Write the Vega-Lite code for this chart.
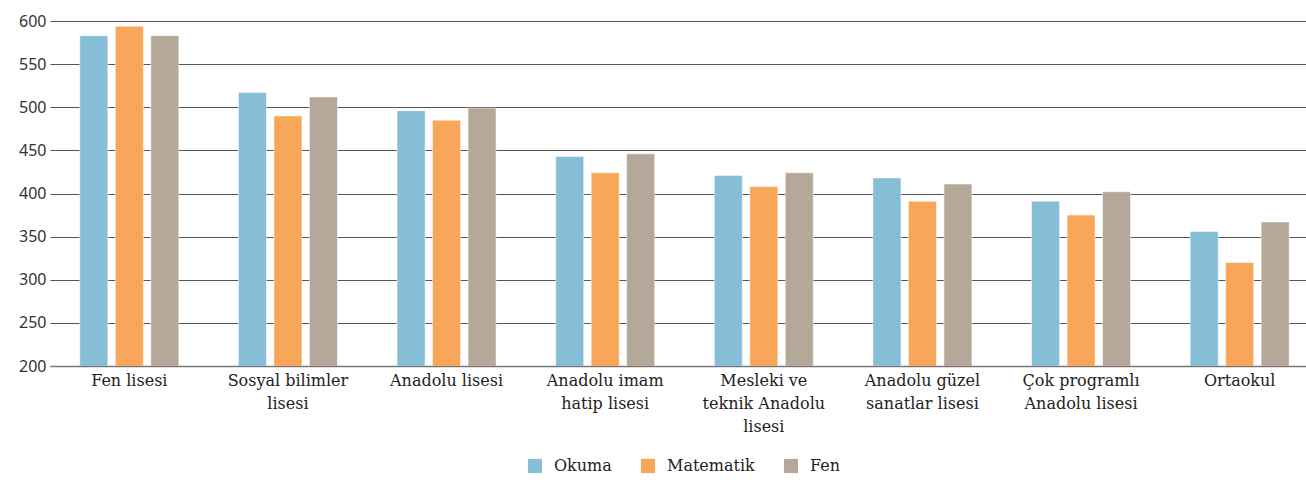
{
  "$schema": "https://vega.github.io/schema/vega-lite/v6.json",
  "autosize": {"type": "none"},
  "padding": {"left": 56, "top": 21, "right": 0, "bottom": 133},
  "width": 1250,
  "height": 345,
  "background": "white",
  "config": {"view": {"stroke": null}},
  "data": {
    "values": [
      {"okul": "Fen lisesi", "alan": "Okuma", "puan": 583},
      {"okul": "Fen lisesi", "alan": "Matematik", "puan": 594},
      {"okul": "Fen lisesi", "alan": "Fen", "puan": 583},
      {"okul": "Sosyal bilimler lisesi", "alan": "Okuma", "puan": 517},
      {"okul": "Sosyal bilimler lisesi", "alan": "Matematik", "puan": 490},
      {"okul": "Sosyal bilimler lisesi", "alan": "Fen", "puan": 512},
      {"okul": "Anadolu lisesi", "alan": "Okuma", "puan": 496},
      {"okul": "Anadolu lisesi", "alan": "Matematik", "puan": 485},
      {"okul": "Anadolu lisesi", "alan": "Fen", "puan": 499},
      {"okul": "Anadolu imam hatip lisesi", "alan": "Okuma", "puan": 443},
      {"okul": "Anadolu imam hatip lisesi", "alan": "Matematik", "puan": 424},
      {"okul": "Anadolu imam hatip lisesi", "alan": "Fen", "puan": 446},
      {"okul": "Mesleki ve teknik Anadolu lisesi", "alan": "Okuma", "puan": 421},
      {"okul": "Mesleki ve teknik Anadolu lisesi", "alan": "Matematik", "puan": 408},
      {"okul": "Mesleki ve teknik Anadolu lisesi", "alan": "Fen", "puan": 424},
      {"okul": "Anadolu güzel sanatlar lisesi", "alan": "Okuma", "puan": 418},
      {"okul": "Anadolu güzel sanatlar lisesi", "alan": "Matematik", "puan": 391},
      {"okul": "Anadolu güzel sanatlar lisesi", "alan": "Fen", "puan": 411},
      {"okul": "Çok programlı Anadolu lisesi", "alan": "Okuma", "puan": 391},
      {"okul": "Çok programlı Anadolu lisesi", "alan": "Matematik", "puan": 375},
      {"okul": "Çok programlı Anadolu lisesi", "alan": "Fen", "puan": 402},
      {"okul": "Ortaokul", "alan": "Okuma", "puan": 356},
      {"okul": "Ortaokul", "alan": "Matematik", "puan": 320},
      {"okul": "Ortaokul", "alan": "Fen", "puan": 367}
    ]
  },
  "mark": {"type": "bar", "clip": true, "stroke": "#ffffff", "strokeOpacity": 0.5, "strokeWidth": 1},
  "encoding": {
    "x": {
      "field": "okul",
      "type": "nominal",
      "sort": null,
      "scale": {"paddingInner": 0, "paddingOuter": 0, "range": [-6, 1263]},
      "axis": {
        "title": null,
        "labelAngle": 0,
        "ticks": false,
        "domainColor": "#777777",
        "domainWidth": 1.5,
        "labelFont": "DejaVu Serif",
        "labelFontSize": 16,
        "labelColor": "#222222",
        "labelPadding": 6,
        "labelLineHeight": 23,
        "labelLimit": 0,
        "labelExpr": "datum.value == 'Sosyal bilimler lisesi' ? ['Sosyal bilimler', 'lisesi'] : datum.value == 'Anadolu imam hatip lisesi' ? ['Anadolu imam', 'hatip lisesi'] : datum.value == 'Mesleki ve teknik Anadolu lisesi' ? ['Mesleki ve', 'teknik Anadolu', 'lisesi'] : datum.value == 'Anadolu güzel sanatlar lisesi' ? ['Anadolu güzel', 'sanatlar lisesi'] : datum.value == 'Çok programlı Anadolu lisesi' ? ['Çok programlı', 'Anadolu lisesi'] : datum.value"
      }
    },
    "xOffset": {
      "field": "alan",
      "type": "nominal",
      "sort": ["Okuma", "Matematik", "Fen"],
      "scale": {"paddingInner": 0.21, "paddingOuter": 0.84}
    },
    "y": {
      "field": "puan",
      "type": "quantitative",
      "scale": {"domain": [200, 600], "nice": false, "zero": false},
      "axis": {
        "title": null,
        "values": [200, 250, 300, 350, 400, 450, 500, 550, 600],
        "ticks": false,
        "domain": false,
        "gridColor": "#555555",
        "gridWidth": 1,
        "labelFont": "Noto Sans",
        "labelFontSize": 16,
        "labelColor": "#333333",
        "labelPadding": 10
      }
    },
    "color": {
      "field": "alan",
      "type": "nominal",
      "sort": ["Okuma", "Matematik", "Fen"],
      "scale": {"domain": ["Okuma", "Matematik", "Fen"], "range": ["#86bed8", "#f8a75a", "#b5a898"]},
      "legend": {
        "title": null,
        "orient": "none",
        "direction": "horizontal",
        "legendX": 471,
        "legendY": 437,
        "symbolType": "square",
        "symbolSize": 200,
        "symbolStrokeWidth": 0,
        "symbolOpacity": 1,
        "labelFont": "DejaVu Serif",
        "labelFontSize": 16,
        "labelColor": "#222222",
        "labelOffset": 11,
        "columnPadding": 28
      }
    }
  }
}
